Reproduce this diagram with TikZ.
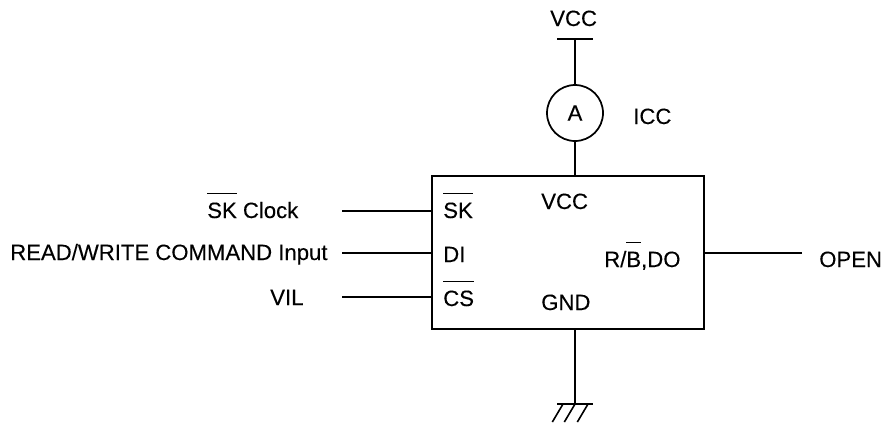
\documentclass[tikz,border=0pt]{standalone}
\usepackage{fontspec}
\setmainfont[FakeBold=0.25]{Liberation Sans}
\newcommand{\barred}[1]{\leavevmode\setbox0\hbox{#1}\rlap{\smash{\rule[18pt]{\wd0}{0.9pt}}}\box0{}}
\begin{document}
\begin{tikzpicture}
[x=0.75pt,y=-0.75pt,
  labeldecorate/.style={anchor=base west,inner sep=0pt,font=\fontsize{16.6}{20}\selectfont},
  linedecorate/.style={-,line width=1.5pt},
  boxdecorate/.style={shape=rectangle,draw,line width=1.2pt,minimum width=204pt,minimum height=115pt,inner sep=0pt},
  meterdecorate/.style={shape=circle,draw,line width=1.3pt,minimum size=42pt,inner sep=0pt,font=\fontsize{16.6}{20}\selectfont}]
\useasboundingbox (0,0) rectangle (881,426);
%% chip and meter
\node (chip) at (568,252.5) [boxdecorate] {};
\node (meter) at (575,113) [meterdecorate] {A};
%% labels
\foreach \nodename/\x/\y/\labeltext in {vcctop/550/26/VCC, icc/633/124/ICC,
  sklabel/207/218/{\barred{SK} Clock}, dilabel/10/260/{READ/WRITE COMMAND Input},
  vil/270/305/VIL, skpin/443/218/{\barred{SK}}, dipin/443/262/DI,
  cspin/443/306/{\barred{CS}}, vccpin/541/209/VCC, gndpin/541/310/GND,
  rbpin/604/267/{R/\barred{B},DO}, open/819/267/OPEN}
{
  \node (\nodename) at (\x,\y) [labeldecorate] {\labeltext};
}
%% free ends of the lines
\foreach \nodename/\x/\y in {skend/342/211, diend/342/253, csend/342/297,
  doend/802/253, vccend/575/39, gndend/575/404}
{
  \coordinate (\nodename) at (\x,\y);
}
%% lines
\foreach \startnode in {skend, diend, csend}
{
  \draw[linedecorate] (\startnode) -- (\startnode -| chip.west);
}
\draw[linedecorate] (doend) -- (doend -| chip.east);
\draw[linedecorate] (vccend) -- (meter.north);
\draw[linedecorate] (meter.south) -- (meter.south |- chip.north);
\draw[linedecorate] (gndend) -- (gndend |- chip.south);
%% supply bar and ground
\draw[linedecorate] ([xshift=-13.5pt]vccend) -- ([xshift=13.5pt]vccend);
\draw[linedecorate] ([xshift=-13.5pt]gndend) -- ([xshift=13.5pt]gndend);
\foreach \dx in {-12,0,13}
{
  \draw[line width=1.2pt] ([xshift=\dx*0.75pt]gndend) -- ([xshift=\dx*0.75pt-8pt,yshift=-13.5pt]gndend);
}
\end{tikzpicture}
\end{document}
